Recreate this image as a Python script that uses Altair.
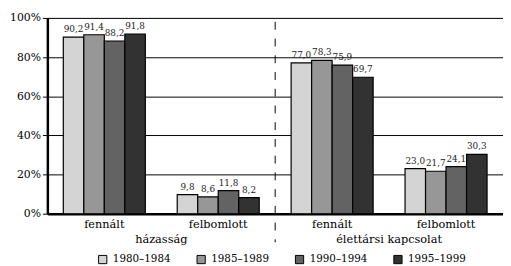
import altair as alt
import pandas as pd

groups = ["házasság", "házasság", "élettársi kapcsolat", "élettársi kapcsolat"]
statuses = ["fennált", "felbomlott", "fennált", "felbomlott"]
periods = ["1980–1984", "1985–1989", "1990–1994", "1995–1999"]
v_1980 = [90.2, 9.8, 77.0, 23.0]
v_1985 = [91.4, 8.6, 78.3, 21.7]
v_1990 = [88.2, 11.8, 75.9, 24.1]
v_1995 = [91.8, 8.2, 69.7, 30.3]
colors = ["#d4d4d4", "#979797", "#636363", "#323232"]
y_ticks = [0, 20, 40, 60, 80, 100]
group_labels = ["házasság", "élettársi kapcsolat"]
group_pos = [1, 3]
separator_pos = [2]

series = [v_1980, v_1985, v_1990, v_1995]
rows = []
for p, vals in zip(periods, series):
    for g, s, v in zip(groups, statuses, vals):
        rows.append({"key": g + "|" + s, "status": s, "period": p, "value": v})
df = pd.DataFrame(rows)
keys = [g + "|" + s for g, s in zip(groups, statuses)]

W, H = 463, 199
FONT = "DejaVu Serif"

x_scale = alt.Scale(paddingInner=0.28, paddingOuter=0.14)
x_axis = alt.Axis(labelExpr="split(datum.label, '|')[1]", labelAngle=0,
                  ticks=False, domainColor="black", domainWidth=2.5,
                  labelFont=FONT, labelFontSize=11.5, labelColor="black",
                  labelPadding=5)
y_scale = alt.Scale(domain=[0, 100], nice=False)
y_axis = alt.Axis(values=y_ticks, labelExpr="datum.value + '%'", grid=True,
                  gridColor="black", gridWidth=1, domainColor="black",
                  domainWidth=2.5, tickColor="black", tickSize=5, tickWidth=1,
                  labelFont=FONT, labelFontSize=11, labelColor="black",
                  labelPadding=2, labelOverlap=False)
xenc = alt.X("key:N", sort=keys, title=None, scale=x_scale, axis=x_axis)
yenc = alt.Y("value:Q", title=None, scale=y_scale, axis=y_axis)
xoff = alt.XOffset("period:N", sort=periods, scale=alt.Scale(paddingInner=0, paddingOuter=0))

bars = alt.Chart(df).mark_bar(stroke="black", strokeWidth=1.2).encode(
    x=xenc,
    xOffset=xoff,
    y=yenc,
    color=alt.Color("period:N", sort=periods,
                    scale=alt.Scale(domain=periods, range=colors),
                    legend=alt.Legend(title=None, orient="none", direction="horizontal",
                                      legendX=51, legendY=240, symbolType="square",
                                      symbolSize=70, symbolStrokeColor="black",
                                      symbolStrokeWidth=1, columnPadding=24,
                                      labelFont=FONT, labelFontSize=10.5,
                                      labelColor="black", labelOffset=5, padding=0)),
)

labels = alt.Chart(df).transform_calculate(
    lab="replace(format(datum.value, '.1f'), '.', ',')"
).mark_text(baseline="bottom", dy=-3, font=FONT, fontSize=9, color="#222").encode(
    x=xenc,
    xOffset=xoff,
    y=yenc,
    text="lab:N",
)

gdf = pd.DataFrame({"pos": group_pos, "label": group_labels})
group_text = alt.Chart(gdf).mark_text(font=FONT, fontSize=11.5, color="black",
                                      baseline="middle").encode(
    x=alt.X("pos:Q", scale=alt.Scale(domain=[0, 4], nice=False, zero=True), axis=None),
    y=alt.value(H + 27),
    text="label:N",
)

sdf = pd.DataFrame({"pos": separator_pos})
sep = alt.Chart(sdf).mark_rule(color="black", strokeWidth=1, strokeDash=[8, 9]).encode(
    x=alt.X("pos:Q", scale=alt.Scale(domain=[0, 4], nice=False, zero=True), axis=None),
    y=alt.value(4),
    y2=alt.value(H + 29),
)

main = alt.layer(bars, labels)
annot = alt.layer(sep, group_text)

chart = alt.layer(main, annot).resolve_scale(x="independent").properties(
    width=W, height=H,
    autosize=alt.AutoSizeParams(type="none"),
    padding={"left": 40, "top": 8, "right": 0, "bottom": 50},
).configure_view(stroke=None).configure(background="white")

chart.save("out.html", embed_options={"renderer": "svg", "actions": False})
